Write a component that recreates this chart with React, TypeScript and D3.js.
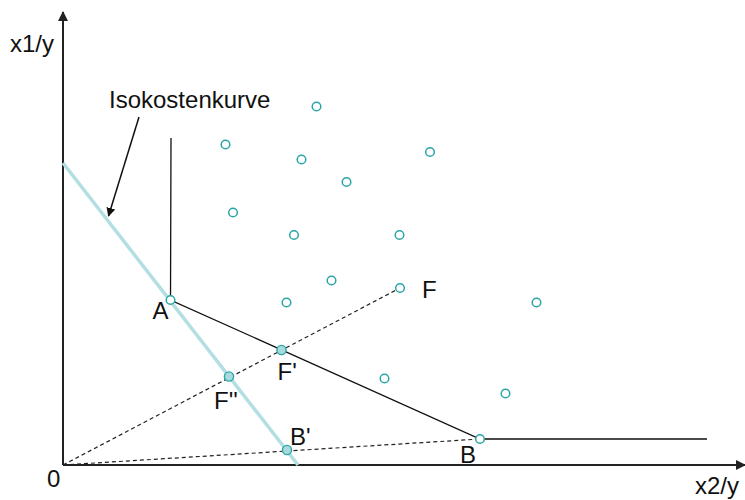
import React from 'react';
import * as d3 from 'd3';

// Koordinaten in "Einheiten" (50 px pro Einheit im Original)
const scatterPoints: [number, number][] = [
  [5.07, 7.17], [3.25, 6.41], [4.77, 6.11], [7.34, 6.26], [5.67, 5.66],
  [3.4, 5.05], [4.62, 4.6], [6.73, 4.6], [5.37, 3.69], [4.47, 3.25],
  [9.47, 3.25], [6.43, 1.73], [8.85, 1.43],
];

const namedPoints = ['A', 'F', 'B'];
const namedValues: [number, number][] = [[2.15, 3.3], [6.74, 3.54], [8.34, 0.52]];

const projectedPoints = ["F'", "F''", "B'"];
const projectedValues: [number, number][] = [[4.37, 2.3], [3.32, 1.77], [4.48, 0.3]];

const isoquant: [number, number][] = [[2.16, 6.54], [2.15, 3.3], [8.34, 0.52], [12.88, 0.52]];
const isocost: [number, number][] = [[0, 6.04], [4.7, 0]];
const rayEnds = ['F', 'B'];

const axisTitles = ['x1/y', 'x2/y'];
const isocostLabel = 'Isokostenkurve';

const W = 745;
const H = 500;
const teal = '#2aa6a6';
const font = '"Liberation Sans", Arial, sans-serif';

const labelOffset: Record<string, [number, number]> = {
  A: [-18, 19],
  F: [22, 10],
  B: [-20, 24],
  "F'": [-4, 30],
  "F''": [-15, 32],
  "B'": [3, -5],
};

export default function App() {
  const x = d3.scaleLinear().domain([0, 13.64]).range([63, 745]);
  const y = d3.scaleLinear().domain([0, 9.06]).range([465, 12]);
  const line = d3.line<[number, number]>().x(d => x(d[0])).y(d => y(d[1]));

  const byName = (n: string) => namedValues[namedPoints.indexOf(n)];

  return (
    <svg width={W} height={H} style={{ position: 'absolute', left: 0, top: 0, background: '#fff' }}
      fontFamily={font} fontSize={24}>
      <defs>
        <marker id="ax" viewBox="0 0 10 10" refX="9" refY="5" markerWidth="5" markerHeight="5" orient="auto">
          <path d="M0,0 L10,5 L0,10 z" fill="#222" />
        </marker>
        <marker id="ar" viewBox="0 0 10 10" refX="9" refY="5" markerWidth="6" markerHeight="6" orient="auto">
          <path d="M0,0 L10,5 L0,10 z" fill="#111" />
        </marker>
      </defs>

      {/* Achsen */}
      <line x1={x(0)} y1={y(0)} x2={x(0)} y2={12} stroke="#222" strokeWidth={2} markerEnd="url(#ax)" />
      <line x1={x(0)} y1={y(0)} x2={745} y2={y(0)} stroke="#222" strokeWidth={2} markerEnd="url(#ax)" />

      {/* Strahlen vom Ursprung */}
      {rayEnds.map(n => (
        <path key={n} d={line([[0, 0], byName(n)]) || ''} stroke="#222" strokeWidth={1.2}
          strokeDasharray="4,3" fill="none" />
      ))}

      {/* Isoquante */}
      <path d={line(isoquant) || ''} stroke="#111" strokeWidth={1.3} fill="none" />

      {/* Isokostenkurve */}
      <path d={line(isocost) || ''} stroke="#b3dfe2" strokeWidth={3.5} fill="none" />

      {/* Beschriftungspfeil */}
      <line x1={139} y1={117} x2={108.5} y2={216} stroke="#111" strokeWidth={1.5} markerEnd="url(#ar)" />
      <text x={109} y={108} fill="#111">{isocostLabel}</text>

      {/* Punkte */}
      {scatterPoints.map((d, i) => (
        <circle key={i} cx={x(d[0])} cy={y(d[1])} r={4.3} fill="#fff" stroke={teal} strokeWidth={1.5} />
      ))}
      {namedValues.map((d, i) => (
        <circle key={namedPoints[i]} cx={x(d[0])} cy={y(d[1])} r={4.3} fill="#fff" stroke={teal} strokeWidth={1.5} />
      ))}
      {projectedValues.map((d, i) => (
        <circle key={projectedPoints[i]} cx={x(d[0])} cy={y(d[1])} r={4.6} fill="#a9d9da" stroke={teal} strokeWidth={1.4} />
      ))}

      {/* Punktbeschriftungen */}
      {namedPoints.concat(projectedPoints).map((n, i) => {
        const d = i < namedPoints.length ? namedValues[i] : projectedValues[i - namedPoints.length];
        const [dx, dy] = labelOffset[n];
        return (
          <text key={n} x={x(d[0]) + dx} y={y(d[1]) + dy} fill="#111">{n}</text>
        );
      })}

      <text x={x(0) - 16} y={y(0) + 22} fill="#111">0</text>
      <text x={10} y={52} fill="#111">{axisTitles[0]}</text>
      <text x={695} y={494} fill="#111">{axisTitles[1]}</text>
    </svg>
  );
}
